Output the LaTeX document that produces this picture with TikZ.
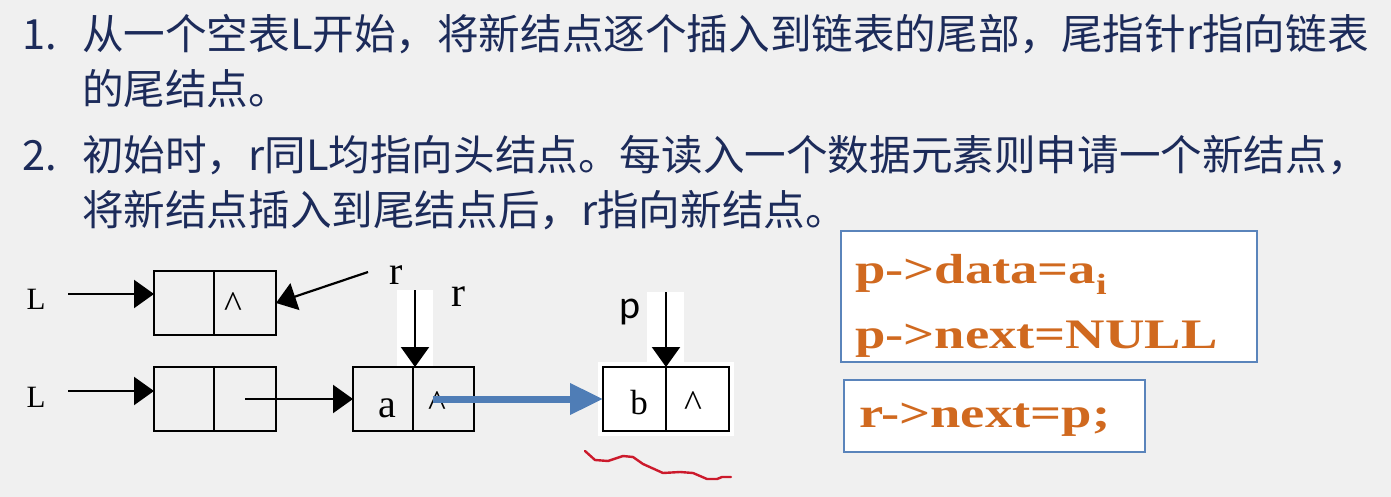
\documentclass[tikz,border=0pt]{standalone}
\usepackage{fontspec}
\setmainfont{Liberation Serif}
\newfontfamily\cjk{Noto Sans CJK SC}
\newfontfamily\codefont[FakeStretch=1.3]{Liberation Serif}
\newfontfamily\sansp{Carlito}
\usetikzlibrary{arrows.meta}
\definecolor{bgc}{HTML}{F0F0F0}
\definecolor{txt}{HTML}{1C2B5A}
\definecolor{bluearr}{HTML}{4F7DB6}
\definecolor{boxblue}{HTML}{5A84BB}
\definecolor{codeor}{HTML}{D0691F}
\definecolor{redline}{HTML}{CC1A2C}
\tikzset{
  txtnode/.style={anchor=base west, inner sep=0pt, outer sep=0pt, text=txt, font=\cjk\fontsize{41.6}{50}\selectfont},
  cell/.style={rectangle, draw=black, line width=2.2pt, minimum height=64pt, inner sep=0pt, outer sep=0pt},
  ptr/.style={line width=2.2pt, -{Triangle[length=20pt,width=28pt]}},
  bigptr/.style={line width=7pt, draw=bluearr, -{Triangle[length=33pt,width=30pt]}},
  lbl/.style={inner sep=0pt, outer sep=0pt, text=black},
  caretlbl/.style={anchor=north, inner sep=0pt, outer sep=0pt, text=black, font=\fontsize{38}{40}\selectfont},
  codebox/.style={rectangle, draw=boxblue, line width=2.5pt, fill=white, inner sep=0pt},
  code/.style={anchor=base west, inner sep=0pt, outer sep=0pt, text=codeor, font=\codefont\bfseries\fontsize{42}{48}\selectfont},
  whitepatch/.style={fill=white, draw=none}
}
\begin{document}
\begin{tikzpicture}[x=1pt,y=-1pt]
\fill[bgc] (0,0) rectangle (1391,497);
\useasboundingbox (0,0) rectangle (1391,497);
% text
\node[txtnode] (n1) at (22,50) {1.};
\node[txtnode] (l1) at (82,50) {从一个空表L开始，将新结点逐个插入到链表的尾部，尾指针r指向链表};
\node[txtnode] (l2) at (82,105) {的尾结点。};
\node[txtnode] (n2) at (22,171) {2.};
\node[txtnode] (l3) at (82,171) {初始时，r同L均指向头结点。每读入一个数据元素则申请一个新结点，};
\node[txtnode] (l4) at (82,225) {将新结点插入到尾结点后，r指向新结点。};
% white patches
\fill[whitepatch] (397,290) rectangle (433,367);
\fill[whitepatch] (647,292) rectangle (684,367);
\fill[whitepatch] (598,362) rectangle (734,436);
% nodes
\node[cell, minimum width=60pt] (h1d) at (184,303) {};
\node[cell, minimum width=62pt] (h1n) at (245,303) {};
\node[cell, minimum width=60pt] (h2d) at (184,399) {};
\node[cell, minimum width=62pt] (h2n) at (245,399) {};
\node[cell, minimum width=60pt] (ad) at (383,399) {};
\node[cell, minimum width=61pt] (an) at (443.5,399) {};
\node[cell, fill=white, minimum width=63pt] (bd) at (634.5,399) {};
\node[cell, fill=white, minimum width=63pt] (bn) at (697.5,399) {};
% cell texts
\node[caretlbl] (c1) at (233,293) {\textasciicircum};
\node[caretlbl] (c2) at (437,392) {\textasciicircum};
\node[caretlbl] (c3) at (693,392) {\textasciicircum};
\node[lbl, font=\fontsize{40}{40}\selectfont] (av) at (387,408) {a};
\node[lbl, font=\fontsize{35}{40}\selectfont] (bv) at (639,403) {b};
% labels
\node[lbl, font=\fontsize{31}{30}\selectfont] (L1) at (36,299) {L};
\node[lbl, font=\fontsize{31}{30}\selectfont] (L2) at (36,397) {L};
\node[lbl, font=\fontsize{40}{40}\selectfont] (r1) at (396,275) {r};
\node[lbl, font=\fontsize{42}{40}\selectfont] (r2) at (458,297) {r};
\node[lbl, font=\sansp\fontsize{40}{40}\selectfont] (pl) at (630,312) {p};
% arrows
\coordinate (L1s) at (68,294);
\coordinate (L2s) at (68,391);
\coordinate (r1s) at (368,272);
\coordinate (r2s) at (415,290);
\coordinate (ps) at (666,292);
\draw[ptr] (L1s) -- (h1d.west |- L1s);
\draw[ptr] (L2s) -- (h2d.west |- L2s);
\draw[ptr] (r1s) -- (h1n.east);
\draw[ptr] (r2s) -- (r2s |- ad.north);
\draw[ptr] (ps) -- (ps |- bd.north);
\draw[ptr] (h2n.center) -- (ad.west);
\draw[bigptr] ([xshift=-11pt]an.center) -- (bd.west);
% red squiggle
\draw[redline, line width=2.4pt, line join=round, line cap=round]
  (585,451) -- (595,460) -- (608,461) -- (623,456) -- (633,457) -- (643,464) -- (663,473)
  -- (680,472) -- (693,473) -- (707,479) -- (717,479) -- (722,477) -- (731,477);
% code boxes
\node[codebox, minimum width=416pt, minimum height=131pt] (cb1) at (1049,296.5) {};
\node[codebox, minimum width=301pt, minimum height=72pt] (cb2) at (994.5,416) {};
\node[code] (k1) at (855,283) {p->data=a\textsubscript{i}};
\node[code] (k2) at (855,348) {p->next=NULL};
\node[code] (k3) at (859,427) {r->next=p;};
\end{tikzpicture}
\end{document}
